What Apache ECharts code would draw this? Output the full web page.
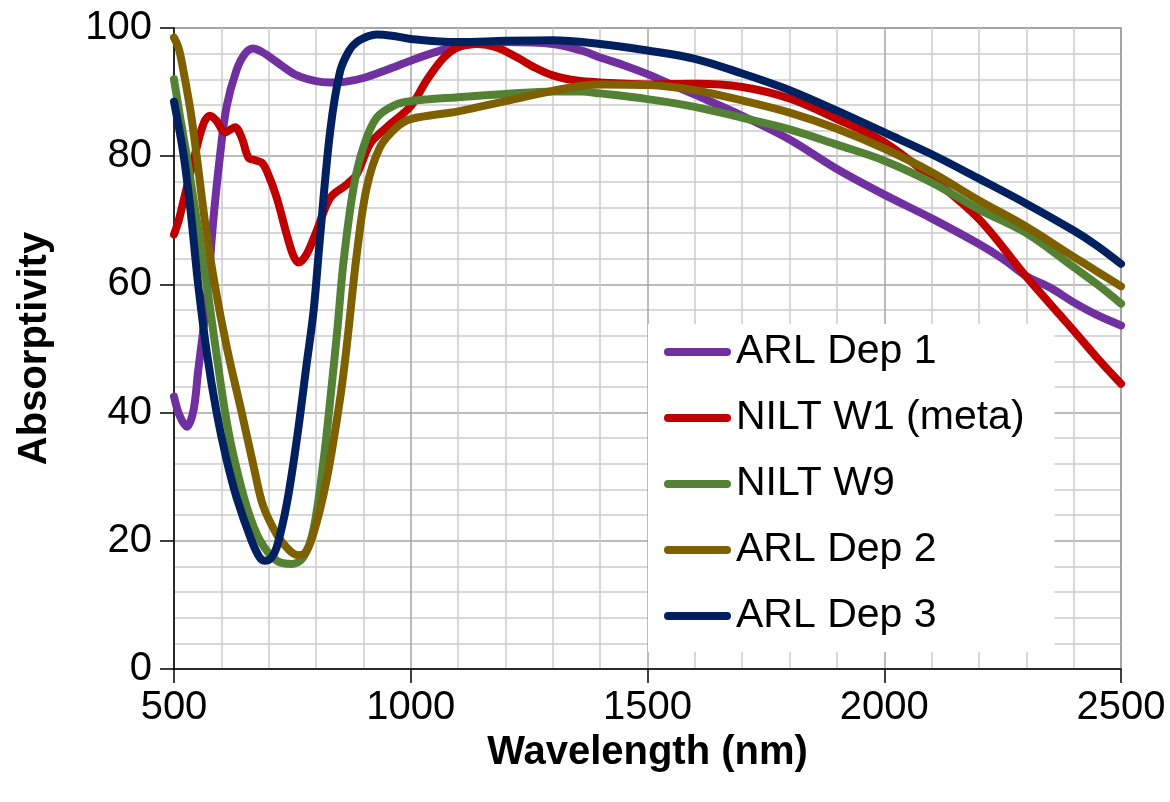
<!DOCTYPE html>
<html>
<head>
<meta charset="utf-8">
<title>Absorptivity</title>
<script src="https://cdn.jsdelivr.net/npm/echarts/dist/echarts.min.js"></script>
<style>
    html,body{margin:0;padding:0;background:#fff;}
    #chart{width:1170px;height:802px;}
</style>
</head>
<body>
<div id="chart"></div>
<script>
// values: [wavelength nm, absorptivity]
var seriesNames = ['ARL Dep 1', 'NILT W1 (meta)', 'NILT W9', 'ARL Dep 2', 'ARL Dep 3']
var seriesColors = ['#7030a0', '#c00000', '#548235', '#7f6000', '#002060']

var arlDep1 = [
    [500,42.5],[512,39.5],[527,37.8],[541,40.3],[551,46.5],[562,53],[572,60],[583,70],[597,80],
    [611,87.7],[632,93.4],[650,96],[667,96.8],[685,96.3],[700,95.6],[730,94],[760,92.6],[800,91.7],
    [830,91.5],[860,91.6],[900,92.2],[950,93.5],[1000,94.9],[1050,96.2],[1100,97.2],[1200,97.8],
    [1300,97.5],[1360,96.5],[1400,95.4],[1450,94.2],[1500,92.8],[1550,91.2],[1600,89.6],[1700,86.3],
    [1800,82.6],[1900,78],[2000,74],[2100,70.3],[2200,66.3],[2250,64],[2300,61.3],[2350,59.5],
    [2400,57.2],[2450,55.2],[2500,53.6]
]
var niltW1 = [
    [500,67.8],[510,70],[520,73],[541,79.3],[562,85],[576,86.3],[590,85.5],[608,83.7],[620,84.2],
    [629,84.5],[643,82.9],[657,79.8],[670,79.4],[685,79],[696,77.7],[717,73.5],[738,67.8],[752,64.5],
    [763,63.4],[780,64.7],[801,68.3],[830,73.5],[865,75.6],[886,77.2],[914,81.9],[949,84.5],
    [1000,87.8],[1035,92],[1070,95.4],[1100,97],[1140,97.5],[1180,97],[1225,95.4],[1260,93.9],
    [1300,92.6],[1350,91.8],[1400,91.5],[1500,91.2],[1600,91.3],[1700,90.8],[1800,89],[1900,85.8],
    [2000,82.2],[2100,76.6],[2200,70.2],[2300,61.2],[2400,52.8],[2450,48.5],[2500,44.5]
]
var niltW9 = [
    [500,92],[512,86.5],[527,80],[548,70],[569,60],[588,50],[608,40],[625,33.5],[654,25.2],[682,20],
    [717,16.9],[749,16.4],[773,17.4],[794,21.6],[815,32],[830,42],[845,53],[858,63.5],[879,75],
    [900,81.4],[928,86],[970,88.1],[1000,88.6],[1100,89.2],[1200,89.7],[1300,90.1],[1360,90.1],
    [1400,89.8],[1500,88.9],[1600,87.7],[1700,86],[1800,84.2],[1900,81.8],[2000,79.3],[2100,75.9],
    [2200,71.7],[2300,68],[2400,62.7],[2450,60],[2500,57]
]
var arlDep2 = [
    [500,98.5],[510,96.8],[520,93.3],[535,87],[548,80],[565,70],[586,60],[612,50],[643,40],[670,31],
    [688,25.5],[717,21],[740,18.8],[760,17.8],[775,18],[794,21],[822,29.4],[851,42.3],[865,50.5],[886,64.7],
    [907,75.1],[935,81.4],[970,84.5],[1000,85.8],[1100,87],[1200,88.6],[1300,90.2],[1360,91],
    [1400,91.2],[1500,91.1],[1600,90.3],[1700,88.7],[1800,86.8],[1900,84.3],[2000,81.2],[2100,77.5],
    [2200,73.1],[2300,69],[2400,64.3],[2450,62],[2500,59.7]
]
var arlDep3 = [
    [500,88.5],[520,80.3],[535,71.5],[551,60],[570,49],[590,40],[610,33],[632,26.8],[664,20],[681,17.4],
    [692,16.9],[705,17.3],[717,19],[738,25.7],[759,35.6],[780,47.5],[795,56],[808,67],[830,84],
    [851,93.3],[870,96.5],[886,97.8],[910,98.7],[928,99],[960,98.8],[1000,98.3],[1100,97.8],
    [1200,98],[1300,98.1],[1400,97.5],[1500,96.5],[1600,95.2],[1700,92.9],[1800,90.3],[1900,87.1],
    [2000,83.7],[2100,80.3],[2200,76.5],[2300,72.6],[2400,68.4],[2450,66],[2500,63.2]
]
var allData = [arlDep1, niltW1, niltW9, arlDep2, arlDep3]

var font = 'Liberation Sans, Arial, sans-serif'
var chart = echarts.init(document.getElementById('chart'))

var series = seriesNames.map(function (name, i) {
    return {
        name: name,
        type: 'line',
        data: allData[i],
        smooth: 0.35,
        symbol: 'none',
        color: seriesColors[i],
        lineStyle: {width: 8, color: seriesColors[i], cap: 'round', join: 'round'}
    }
})

chart.setOption({
    animation: false,
    backgroundColor: '#fff',
    grid: {
        left: 174, right: 49, top: 28, bottom: 133,
        show: true, borderColor: '#7f7f7f', borderWidth: 1.5
    },
    legend: {
        orient: 'vertical',
        left: 648, top: 324,
        padding: [5, 30, 13, 16],
        backgroundColor: '#fff',
        itemWidth: 67, itemHeight: 8,
        itemGap: 20,
        itemTextGap: 4,
        icon: 'path://M4,0 H63 A4,4 0 0 1 63,8 H4 A4,4 0 0 1 4,0 Z',
        textStyle: {fontFamily: font, fontSize: 41, color: '#000', lineHeight: 46},
        data: seriesNames
    },
    xAxis: {
        type: 'value',
        min: 500, max: 2500, interval: 500,
        name: 'Wavelength (nm)',
        nameLocation: 'middle',
        nameGap: 63,
        nameTextStyle: {fontFamily: font, fontSize: 40, fontWeight: 'bold', color: '#000'},
        axisLine: {lineStyle: {color: '#000', width: 1.5}},
        axisTick: {show: true, inside: false, length: 14, lineStyle: {color: '#000', width: 1.5}},
        axisLabel: {fontFamily: font, fontSize: 40, color: '#000', margin: 19,
            formatter: function (v) { return String(v) }},
        splitLine: {show: true, lineStyle: {color: '#a6a6a6', width: 1.5}},
        minorTick: {show: false, splitNumber: 5},
        minorSplitLine: {show: true, lineStyle: {color: '#cccccc', width: 1.5}}
    },
    yAxis: {
        type: 'value',
        min: 0, max: 100, interval: 20,
        name: 'Absorptivity',
        nameLocation: 'middle',
        nameGap: 119,
        nameTextStyle: {fontFamily: font, fontSize: 40, fontWeight: 'bold', color: '#000'},
        axisLine: {show: true, lineStyle: {color: '#000', width: 1.5}},
        axisTick: {show: true, inside: false, length: 14, lineStyle: {color: '#000', width: 1.5}},
        axisLabel: {fontFamily: font, fontSize: 40, color: '#000', margin: 22,
            formatter: function (v) { return String(v) }},
        splitLine: {show: true, lineStyle: {color: '#a6a6a6', width: 1.5}},
        minorTick: {show: false, splitNumber: 5},
        minorSplitLine: {show: true, lineStyle: {color: '#cccccc', width: 1.5}}
    },
    series: series
})
</script>
</body>
</html>
